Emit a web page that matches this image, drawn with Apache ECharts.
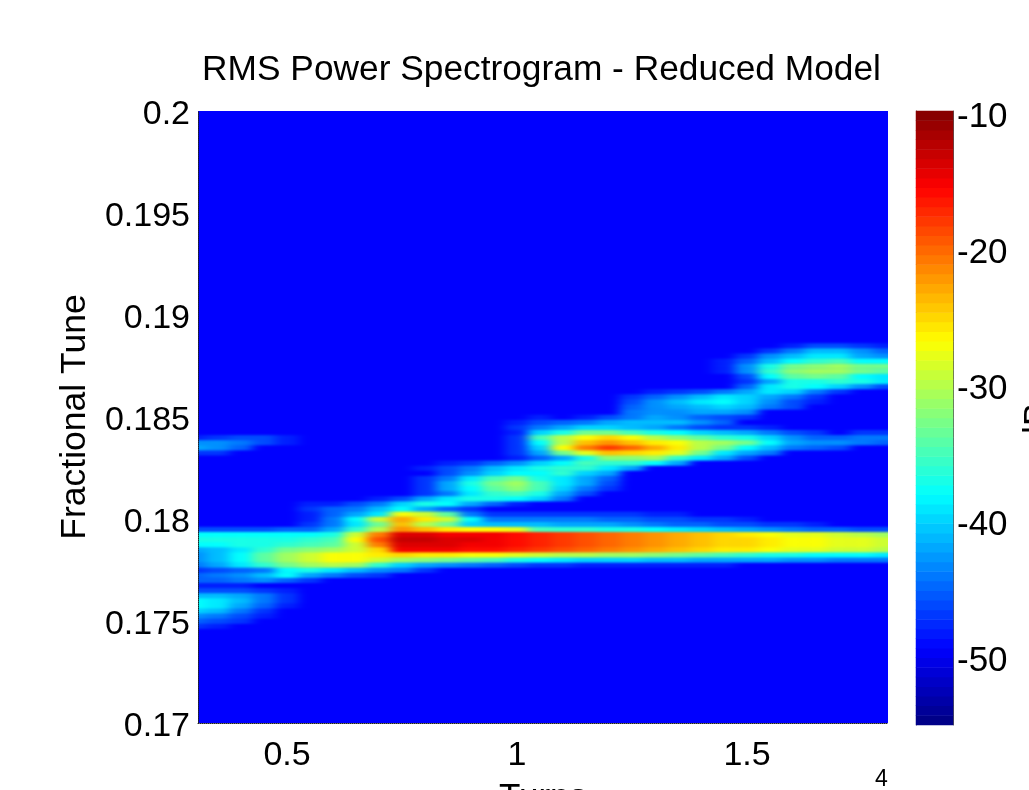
<!DOCTYPE html>
<html><head><meta charset="utf-8">
<style>html,body{margin:0;padding:0;background:#fff;overflow:hidden}#c{width:1029px;height:790px}</style>
<script src="https://cdn.jsdelivr.net/npm/echarts@6/dist/echarts.min.js"></script>
</head><body>
<svg width="0" height="0" style="position:absolute"><filter id="soft" x="-5%" y="-5%" width="110%" height="110%" color-interpolation-filters="sRGB"><feGaussianBlur stdDeviation="6 1.2"/></filter></svg>
<div id="c"></div>
<script>
const _ = -49.36; // background level (dB)
const rowStart = 0.1745, rowStep = 0.00025;
const turns = [0.3,0.35,0.4,0.45,0.5,0.55,0.6,0.65,0.7,0.75,0.8,0.85,0.9,0.95,1,1.05,1.1,1.15,1.2,1.25,1.3,1.35,1.4,1.45,1.5,1.55,1.6,1.65,1.7,1.75,1.8];
// each column: dB read bottom to top, starting at rowStart; missing = background
const c030=[_,-47,-45,-43,-40,-38,-38,-41,-46,-48, -45,-45,-47,-44,-43,-43,-42,-38,-37,-38, -46,_,_,_,_,_,_,_,_,_, _,_,_,_,_,-47,-42,-43,-48];
const c035=[_,-48,-46,-44,-41,-39,-39,-41,-46,-48, -45,-44,-46,-42,-41,-41,-41,-38,-37,-38, -46,_,_,_,_,_,_,_,_,_, _,_,_,_,_,-47,-43,-43,-47];
const c040=[_,_,-47,-46,-44,-42,-41,-42,-46,-48, -44,-43,-45,-39,-38,-38,-39,-37,-37,-38, -46,_,_,_,_,_,_,_,_,_, _,_,_,_,_,_,-45,-44,-46];
const c045=[_,_,_,-48,-47,-45,-44,-44,-47,_, -43,-41,-44,-36,-34,-34,-36,-37,-37,-38, -46,_,_,_,_,_,_,_,_,_, _,_,_,_,_,_,_,-46,-46];
const c050=[_,_,_,_,_,-48,-47,-47,-48,_, -45,-38,-38,-33,-31,-31,-33,-36,-37,-38, -45,_,_,_,_,_,_,_,_,_, _,_,_,_,_,_,_,-48,-48];
const c055=[_,_,_,_,_,_,_,_,_,_, -47,-42,-37,-31,-29,-29,-32,-35,-36,-38, -45,-47,-48,-48,-47,-48];
const c060=[_,_,_,_,_,_,_,_,_,_, _,-44,-39,-30,-27,-27,-31,-34,-35,-37, -42,-44,-44,-45,-45,-48];
const c065=[_,_,_,_,_,_,_,_,_,_, _,-46,-41,-31,-27,-27,-29,-29,-27,-29, -36,-39,-38,-42,-44,-46];
const c070=[_,_,_,_,_,_,_,_,_,_, _,-47,-43,-36,-29,-26,-25,-21,-19,-21, -30,-33,-29,-39,-41,-44,-48];
const c075=[_,_,_,_,_,_,_,_,_,_, _,_,-44,-40,-31,-25,-15,-14,-13,-14, -22,-24,-23,-27,-38,-40,-46];
const c080=[_,_,_,_,_,_,_,_,_,_, _,_,-47,-42,-32,-26,-15,-14,-13,-14, -24,-30,-26,-29,-42,-37,-42,-47,-47,-47, -47,_,-48];
const c085=[_,_,_,_,_,_,_,_,_,_, _,_,_,-43,-33,-26,-15,-14,-14,-15, -26,-33,-29,-34,-45,-38,-39,-44,-42,-42, -44,-46,-46,-48];
const c090=[_,_,_,_,_,_,_,_,_,_, _,_,_,-44,-34,-27,-16,-15,-14,-15, -27,-40,-38,-44,-47,-42,-37,-39,-38,-37, -39,-43,-44,-47];
const c095=[_,_,_,_,_,_,_,_,_,_, _,_,_,-45,-35,-27,-16,-15,-15,-15, -27,-41,-44,-47,_,-45,-37,-36,-34,-33, -35,-40,-41,-45];
const c100=[_,_,_,_,_,_,_,_,_,_, _,_,_,-46,-37,-28,-17,-16,-16,-16, -28,-41,-44,-47,_,-48,-38,-35,-32,-31, -33,-38,-39,-43,-48,-47,-47,-47,-47,-48, -47,-48];
const c105=[_,_,_,_,_,_,_,_,_,_, _,_,_,-47,-38,-29,-18,-17,-17,-17, -35,-41,-44,-47,_,_,-40,-37,-35,-35, -37,-38,-37,-40,-45,-42,-40,-38,-35,-40, -44,-46,-48];
const c110=[_,_,_,_,_,_,_,_,_,_, _,_,_,-47,-39,-30,-19,-18,-18,-18, -36,-42,-44,-47,_,_,-44,-42,-40,-39, -39,-36,-36,-38,-42,-33,-27,-30,-30,-37, -42,-45];
const c115=[_,_,_,_,_,_,_,_,_,_, _,_,_,-48,-40,-30,-20,-19,-19,-19, -36,-42,-44,-47,_,_,_,-46,-44,-42, -42,-40,-36,-35,-37,-28,-21,-24,-27,-33, -40,-44,-48];
const c120=[_,_,_,_,_,_,_,_,_,_, _,_,_,-48,-40,-31,-21,-20,-20,-20, -37,-42,-45,-47,_,_,_,_,-47,-46, -45,-42,-39,-36,-32,-24,-18,-22,-25,-33, -40,-42,-46];
const c125=[_,_,_,_,_,_,_,_,_,_, _,_,_,-48,-40,-31,-22,-21,-21,-21, -37,-43,-45,-47,_,_,_,_,_,_, _,_,-42,-36,-32,-25,-20,-24,-27,-35, -41,-41,-44,-44,-45,-46,-47];
const c130=[_,_,_,_,_,_,_,_,_,_, _,_,_,-48,-41,-32,-23,-22,-22,-22, -38,-44,-46,-48,_,_,_,_,_,_, _,_,_,-38,-31,-26,-23,-26,-30,-37, -42,-41,-42,-43,-43,-43,-45,-48];
const c135=[_,_,_,_,_,_,_,_,_,_, _,_,_,-48,-41,-33,-24,-23,-23,-23, -39,-45,-46,-48,_,_,_,_,_,_, _,_,_,-42,-36,-28,-26,-27,-32,-38, -44,-41,-43,-43,-42,-41,-43,-47];
const c140=[_,_,_,_,_,_,_,_,_,_, _,_,_,-48,-42,-34,-25,-24,-24,-24, -40,-45,-47,_,_,_,_,_,_,_, _,_,_,_,-39,-33,-30,-30,-34,-40, -46,-43,-45,-42,-41,-39,-41,-46];
const c145=[_,_,_,_,_,_,_,_,_,_, _,_,_,-48,-42,-35,-26,-25,-25,-25, -41,-46,-47,_,_,_,_,_,_,_, _,_,_,_,-42,-39,-33,-31,-36,-41, -47,-45,-46,-42,-40,-38,-39,-44,_,_, _,-48,-48,-48];
const c150=[_,_,_,_,_,_,_,_,_,_, _,_,_,_,-42,-36,-26,-25,-25,-26, -42,-46,-48,_,_,_,_,_,_,_, _,_,_,_,-46,-42,-38,-33,-37,-42, -47,_,-47,-43,-41,-40,-40,-42,-45,-47, -46,-43,-43,-45,-47];
const c155=[_,_,_,_,_,_,_,_,_,_, _,_,_,_,-42,-37,-27,-26,-26,-27, -43,-47,_,_,_,_,_,_,_,_, _,_,_,_,_,-44,-41,-38,-40,-44, -48,_,_,_,-44,-43,-42,-39,-39,-42, -38,-36,-37,-41,-43,-47];
const c160=[_,_,_,_,_,_,_,_,_,_, _,_,_,_,-43,-37,-28,-27,-27,-28, -44,-47,_,_,_,_,_,_,_,_, _,_,_,_,_,_,-44,-42,-43,-46, _,_,_,_,-46,-46,-44,-40,-37,-37, -34,-32,-33,-38,-41,-44,-48];
const c165=[_,_,_,_,_,_,_,_,_,_, _,_,_,_,-43,-38,-28,-27,-27,-28, -45,-48,_,_,_,_,_,_,_,_, _,_,_,_,_,_,-45,-43,-45,-47, _,_,_,_,_,-48,-47,-44,-38,-37, -33,-31,-32,-36,-39,-41,-46];
const c170=[_,_,_,_,_,_,_,_,_,_, _,_,_,_,-44,-38,-29,-28,-28,-29, -45,_,_,_,_,_,_,_,_,_, _,_,_,_,_,_,-46,-43,-45,_, _,_,_,_,_,_,_,-47,-40,-36, -34,-31,-31,-35,-39,-41,-46];
const c175=[_,_,_,_,_,_,_,_,_,_, _,_,_,_,-44,-38,-29,-28,-28,-30, -46,_,_,_,_,_,_,_,_,_, _,_,_,_,_,_,_,-44,-44,-47, _,_,_,_,_,_,_,_,-43,-37, -38,-33,-33,-38,-42,-43,-47];
const c180=[_,_,_,_,_,_,_,_,_,_, _,_,_,_,-44,-39,-30,-29,-29,-31, -46,_,_,_,_,_,_,_,_,_, _,_,_,_,_,_,_,-45,-44,-47, _,_,_,_,_,_,_,_,-46,-39, -39,-34,-33,-38,-43,-45,-48];
const columns=[c030,c035,c040,c045,c050,c055,c060,c065,c070,c075,c080,c085,c090,c095,c100,c105,c110,c115,c120,c125,c130,c135,c140,c145,c150,c155,c160,c165,c170,c175,c180];
const tuneTicks=[0.17,0.175,0.18,0.185,0.19,0.195,0.2];
const turnTicks=[0.5,1,1.5];
const dbTicks=[-50,-40,-30,-20,-10];
const dbMin=-55, dbMax=-9.85, levels=64;
const jet=['#000080','#0000ff','#0080ff','#00ffff','#80ff80','#ffff00','#ff8000','#ff0000','#800000'];

const pad=[3,2], rowsBelow=22, rowsAbove=48;
const heat=[], xCats=[], yCats=[];
const nx=turns.length+pad[0]+pad[1], ny=rowsBelow+59+rowsAbove;
for(let i=0;i<nx;i++)xCats.push(String(i));
for(let j=0;j<ny;j++)yCats.push((rowStart+(j-rowsBelow)*rowStep).toFixed(5));
for(let i=0;i<nx;i++){
  const col=columns[Math.min(columns.length-1,Math.max(0,i-pad[0]))];
  for(let j=0;j<ny;j++){
    const v=col[j-rowsBelow];
    heat.push([i,j,v===undefined?_:v]);
  }
}
const barCats=[],bar=[];
for(let k=0;k<levels;k++){barCats.push(String(k));bar.push([0,k,dbMin+(k+.5)*(dbMax-dbMin)/levels]);}
const font='"Liberation Sans"';
const F=35;
const lab={fontFamily:font,fontSize:F,color:'#000'};
const tick={fontFamily:font,fontSize:34,color:'#000'};
const chart=echarts.init(document.getElementById('c'),null,{renderer:'canvas',width:1029,height:790});
chart.setOption({
  animation:false,
  title:[{text:'RMS Power Spectrogram - Reduced Model',left:536.5,top:48,textAlign:'center',zlevel:1,
    textStyle:{fontFamily:font,fontSize:35.3,fontWeight:'normal',color:'#000'}},
    {text:'4',left:870,top:763,zlevel:1,textStyle:{fontFamily:font,fontSize:23,fontWeight:'normal',color:'#000'}}],
  visualMap:{show:false,seriesIndex:[0,1],dimension:2,min:dbMin,max:dbMax,inRange:{color:jet}},
  grid:[
    {left:114.5,width:828,top:88.05,height:657.9,outerBoundsMode:'none'},
    {left:198,width:690,top:111,height:612,outerBoundsMode:'none'},
    {left:916,width:37,top:111,height:614,outerBoundsMode:'none'}
  ],
  xAxis:[
    {gridIndex:0,type:'category',data:xCats,show:false},
    {gridIndex:1,type:'value',min:0.3065,max:1.8065,position:'bottom',zlevel:1,
      name:'Turns',nameLocation:'middle',nameGap:58,nameTextStyle:lab,
      splitLine:{show:false},axisTick:{show:false},
      axisLine:{show:true,lineStyle:{color:'#222',type:'dotted',width:1}},
      axisLabel:{...tick,margin:16,customValues:turnTicks,formatter:v=>String(v)}},
    {gridIndex:2,type:'category',data:['bar'],show:false}
  ],
  yAxis:[
    {gridIndex:0,type:'category',data:yCats,show:false},
    {gridIndex:1,type:'value',min:0.17,max:0.2,position:'left',zlevel:1,
      name:'Fractional Tune',nameLocation:'middle',nameGap:105,nameRotate:90,nameTextStyle:{...lab,fontSize:35.5},
      splitLine:{show:false},axisTick:{show:false},
      axisLine:{show:true,lineStyle:{color:'#222',type:'dotted',width:1}},
      axisLabel:{...tick,margin:8,verticalAlign:'top',lineHeight:8,customValues:tuneTicks,formatter:v=>String(+(+v).toFixed(3))}},
    {gridIndex:2,type:'category',data:barCats,show:false},
    {gridIndex:2,type:'value',min:dbMin,max:dbMax,position:'right',zlevel:1,
      name:'dB',nameLocation:'middle',nameGap:68,nameRotate:90,nameTextStyle:{...lab,padding:[0,12,0,0]},
      splitLine:{show:false},
      axisLine:{show:true,lineStyle:{color:'#555',width:1}},
      axisTick:{show:true,inside:true,length:5,customValues:dbTicks,lineStyle:{color:'#222'}},
      axisLabel:{...lab,margin:4,verticalAlign:'top',lineHeight:8,customValues:dbTicks,formatter:v=>String(v)}},
    {gridIndex:2,type:'value',min:dbMin,max:dbMax,position:'left',zlevel:1,
      splitLine:{show:false},
      axisLine:{show:true,lineStyle:{color:'#555',width:1}},
      axisTick:{show:true,inside:true,length:5,customValues:dbTicks,lineStyle:{color:'#222'}},
      axisLabel:{show:false}}
  ],
  series:[
    {type:'heatmap',xAxisIndex:0,yAxisIndex:0,data:heat,zlevel:0,progressive:0,silent:true},
    {type:'heatmap',xAxisIndex:2,yAxisIndex:2,data:bar,zlevel:1,progressive:0,silent:true}
  ]
});
function styleLayer(){
  const cv=document.querySelector('#c canvas[data-zr-dom-id="zr_0"]');
  if(cv){cv.style.background='#0000ff';cv.style.filter='url(#soft)';cv.style.clipPath='inset(111px 141px 67px 198px)';}
}
styleLayer();
chart.on('finished',styleLayer);
</script>
</body></html>
